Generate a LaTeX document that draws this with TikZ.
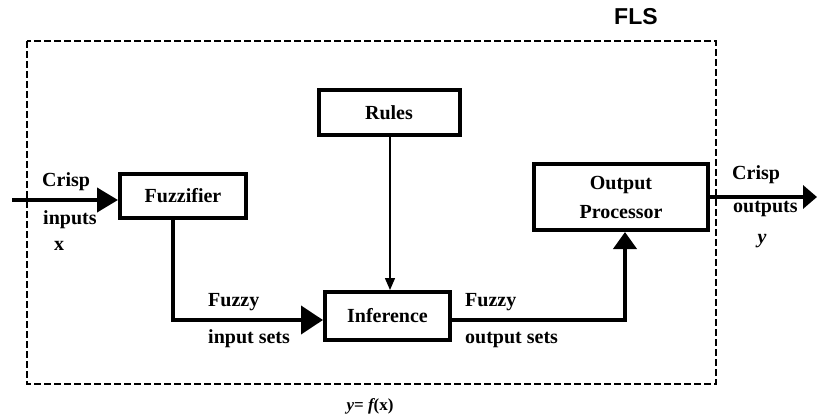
\documentclass[tikz,border=0pt]{standalone}
\usepackage{fontspec}
\setmainfont{Liberation Serif}
\newfontfamily\flsfont{Liberation Sans}
\usetikzlibrary{arrows.meta}
\begin{document}
\begin{tikzpicture}[x=1pt,y=-1pt,
  blk/.style={draw,line width=4pt,inner sep=0pt,font=\fontsize{20}{29}\selectfont\bfseries,align=center},
  lbl/.style={inner sep=0pt,font=\fontsize{20}{24}\selectfont\bfseries},
  thickline/.style={line width=4pt},
  thinline/.style={line width=1.5pt}]
\useasboundingbox (0,0) rectangle (817,417);
% frame
\draw[line width=2.5pt,dash pattern=on 7pt off 3pt] (27,41) rectangle (716,384);
\node[anchor=base west,inner sep=0pt,font=\fontsize{23}{27}\selectfont\flsfont\bfseries] (fls) at (614,25) {FLS};
% blocks
\node[blk,minimum width=126pt,minimum height=44pt] (fuzz) at (183,196) {Fuzzifier};
\node[blk,minimum width=141pt,minimum height=45pt] (rules) at (389,112.5) {Rules};
\node[blk,minimum width=125pt,minimum height=48pt] (inf) at (387.5,316) {Inference};
\node[blk,minimum width=174pt,minimum height=66pt] (outp) at (621,197) {Output\\Processor};
% end points
\coordinate (in) at (12,200);
\coordinate (out) at (817,197);
\coordinate (c1) at (173,320);
\coordinate (c2) at (625,320);
\coordinate (c3) at (390,0);
% connectors
\draw[thickline,-{Triangle[length=21pt,width=24pt]}] (in) -- (in -| fuzz.west);
\draw[thickline,-{Triangle[length=22pt,width=28pt]}] (c1 |- fuzz.south) -- (c1) -- (c1 -| inf.west);
\draw[thinline,-{Triangle[length=12pt,width=10pt]}] (c3 |- rules.south) -- (c3 |- inf.north);
\draw[thickline,-{Triangle[length=17pt,width=23pt]}] (c2 -| inf.east) -- (c2) -- (c2 |- outp.south);
\draw[thickline,-{Triangle[length=14pt,width=23pt]}] (out -| outp.east) -- (out);
% labels
\node[lbl,anchor=base west] (l1) at (42,186) {Crisp};
\node[lbl,anchor=base west] (l2) at (43,225) {inputs};
\node[lbl,anchor=base] (l3) at (59,250) {x};
\node[lbl,anchor=base west] (l4) at (208,306) {Fuzzy};
\node[lbl,anchor=base west] (l5) at (208,343) {input sets};
\node[lbl,anchor=base west] (l6) at (465,306) {Fuzzy};
\node[lbl,anchor=base west] (l7) at (465,343) {output sets};
\node[lbl,anchor=base west] (l8) at (732,179) {Crisp};
\node[lbl,anchor=base west] (l9) at (733,212) {outputs};
\node[lbl,anchor=base] (l10) at (762,243) {\itshape y};
\node[inner sep=0pt,anchor=base,font=\fontsize{17}{20}\selectfont\bfseries] (eq) at (370,410) {{\itshape y}= {\itshape f}(x)};
\end{tikzpicture}
\end{document}
